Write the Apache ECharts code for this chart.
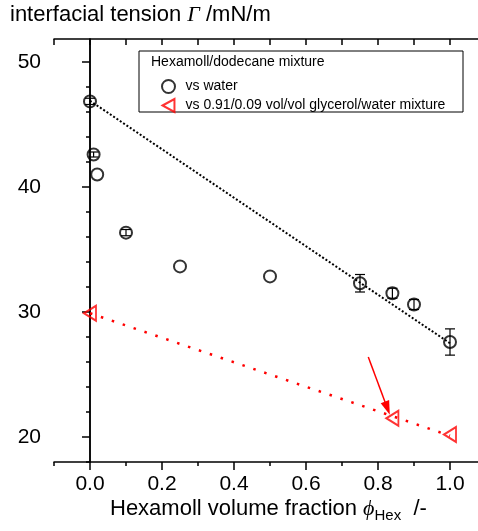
<!DOCTYPE html>
<html>
<head>
<meta charset="utf-8">
<script src="https://cdn.jsdelivr.net/npm/echarts@6/dist/echarts.min.js"></script>
<style>
  html, body { margin: 0; padding: 0; background: #fff; }
  #chart { width: 478px; height: 531px; }
</style>
</head>
<body>
<div id="chart"></div>
<script>
var waterX = [0, 0.01, 0.02, 0.1, 0.25, 0.5, 0.75, 0.84, 0.9, 1.0];
var waterY = [46.85, 42.6, 41.0, 36.35, 33.65, 32.85, 32.3, 31.5, 30.6, 27.6];
var waterErr = [0.25, 0.2, 0, 0.25, 0, 0, 0.7, 0.4, 0.4, 1.05];

var glyX = [0, 0.84, 1.0];
var glyY = [29.9, 21.5, 20.2];

var fitWaterX = [0, 1.0];
var fitWaterY = [46.9, 27.5];
var fitGlyX = [0, 1.0];
var fitGlyY = [29.9, 20.1];

var arrowFrom = [0.773, 26.4];
var arrowTo = [0.826, 22.3];

var xMajor = [0, 0.2, 0.4, 0.6, 0.8, 1.0];
var xMinor = [-0.1, 0.1, 0.3, 0.5, 0.7, 0.9];
var yMajor = [20, 30, 40, 50];
var yMinor = [18, 22, 24, 26, 28, 32, 34, 36, 38, 42, 44, 46, 48];

var FONT = '"Liberation Sans", Arial, sans-serif';
var SERIF = '"Liberation Serif", "Times New Roman", serif';
var triPath = 'path://M0,6 L11,0 L11,12 Z';

function zip(xs, ys) {
  return xs.map(function (x, i) { return [x, ys[i]]; });
}

var chart = echarts.init(document.getElementById('chart'));

var xBase = { type: 'value', min: -0.1, max: 1.1, splitLine: { show: false } };
var yBase = { type: 'value', min: 18, max: 51.84, splitLine: { show: false } };
var lineBlack = { lineStyle: { color: '#000', width: 1.5 } };

var option = {
  animation: false,
  backgroundColor: '#fff',
  grid: { left: 54, top: 39, width: 432, height: 423, outerBoundsMode: 'none', containLabel: false },
  xAxis: [
    Object.assign({}, xBase, {
      position: 'bottom',
      axisLine: lineBlack,
      axisTick: { show: true, inside: false, length: 8, customValues: xMajor, lineStyle: { color: '#000', width: 1.5 } },
      axisLabel: {
        customValues: xMajor, margin: 12, color: '#000', fontSize: 21, fontFamily: FONT,
        formatter: function (v) { return v.toFixed(1); }
      }
    }),
    Object.assign({}, xBase, {
      position: 'bottom',
      axisLine: { show: false },
      axisTick: { show: true, inside: false, length: 4, customValues: xMinor, lineStyle: { color: '#000', width: 1.5 } },
      axisLabel: { show: false }
    }),
    Object.assign({}, xBase, {
      position: 'top',
      interval: 0.1,
      axisLine: lineBlack,
      axisTick: { show: true, inside: true, length: 6, lineStyle: { color: '#000', width: 1.5 } },
      axisLabel: { show: false }
    })
  ],
  yAxis: [
    Object.assign({}, yBase, {
      position: 'left',
      axisLine: lineBlack,
      axisTick: { show: true, inside: false, length: 8, customValues: yMajor, lineStyle: { color: '#000', width: 1.5 } },
      axisLabel: { customValues: yMajor, margin: 13, color: '#000', fontSize: 21, fontFamily: FONT }
    }),
    Object.assign({}, yBase, {
      position: 'left',
      axisLine: { show: false },
      axisTick: { show: true, inside: false, length: 4, customValues: yMinor, lineStyle: { color: '#000', width: 1.5 } },
      axisLabel: { show: false }
    }),
    Object.assign({}, yBase, {
      position: 'right',
      axisLine: lineBlack,
      axisTick: { show: true, inside: true, length: 8, customValues: yMajor, lineStyle: { color: '#000', width: 1.5 } },
      axisLabel: { show: false }
    })
  ],
  legend: {
    orient: 'vertical',
    left: 156,
    top: 74,
    itemWidth: 24,
    itemHeight: 13,
    itemGap: 4,
    textStyle: { color: '#000', fontSize: 14, fontFamily: FONT, lineHeight: 14 },
    data: ['vs water', 'vs 0.91/0.09 vol/vol glycerol/water mixture']
  },
  graphic: [
    {
      type: 'text', left: 10, top: 4,
      style: {
        text: '{a|interfacial tension }{g|Γ}{a| /mN/m}',
        rich: {
          a: { fontSize: 22, fontFamily: FONT, fill: '#000' },
          g: { fontSize: 22, fontFamily: SERIF, fontStyle: 'italic', fill: '#000' }
        }
      }
    },
    {
      type: 'rect', z: 1,
      shape: { x: 139, y: 51, width: 324, height: 61 },
      style: { fill: '#fff', stroke: '#000', lineWidth: 1 }
    },
    {
      type: 'text', left: 151, top: 55, z: 2,
      style: { text: 'Hexamoll/dodecane mixture', fontSize: 14, fontFamily: FONT, fill: '#000' }
    },
    {
      type: 'text', left: 110, top: 498,
      style: {
        text: '{a|Hexamoll volume fraction }{p|ϕ}{s|Hex}{a|  /-}',
        rich: {
          a: { fontSize: 22, fontFamily: FONT, fill: '#000', lineHeight: 28 },
          p: { fontSize: 22, fontFamily: SERIF, fontStyle: 'italic', fill: '#000', lineHeight: 28 },
          s: { fontSize: 15, fontFamily: FONT, fill: '#000', lineHeight: 15, verticalAlign: 'bottom' }
        }
      }
    }
  ],
  series: [
    {
      name: 'fitWater', type: 'line', silent: true, symbol: 'none',
      data: zip(fitWaterX, fitWaterY),
      lineStyle: { color: '#000', width: 2, type: [2, 2] }
    },
    {
      name: 'fitGly', type: 'line', silent: true, symbol: 'none',
      data: zip(fitGlyX, fitGlyY),
      lineStyle: { color: '#ff0000', width: 2.5, type: [2.5, 9] },
      markLine: {
        silent: true,
        symbol: ['none', 'triangle'],
        symbolSize: [9, 14],
        label: { show: false },
        lineStyle: { color: '#ff0000', width: 1.5, type: 'solid' },
        itemStyle: { color: '#ff0000' },
        data: [[{ coord: arrowFrom }, { coord: arrowTo }]]
      }
    },
    {
      name: 'errWater', type: 'custom', silent: true,
      data: waterX.map(function (x, i) { return [x, waterY[i], waterErr[i]]; }),
      renderItem: function (params, api) {
        var err = api.value(2);
        if (!err) return null;
        var top = api.coord([api.value(0), api.value(1) + err]);
        var bot = api.coord([api.value(0), api.value(1) - err]);
        var hw = 5;
        var st = { stroke: '#000', lineWidth: 1.2 };
        return {
          type: 'group',
          children: [
            { type: 'line', shape: { x1: top[0], y1: top[1], x2: bot[0], y2: bot[1] }, style: st },
            { type: 'line', shape: { x1: top[0] - hw, y1: top[1], x2: top[0] + hw, y2: top[1] }, style: st },
            { type: 'line', shape: { x1: bot[0] - hw, y1: bot[1], x2: bot[0] + hw, y2: bot[1] }, style: st }
          ]
        };
      }
    },
    {
      name: 'vs water', type: 'scatter',
      data: zip(waterX, waterY),
      symbol: 'circle', symbolSize: 12,
      itemStyle: { color: 'rgba(255,255,255,0)', borderColor: '#000', borderWidth: 2 }
    },
    {
      name: 'vs 0.91/0.09 vol/vol glycerol/water mixture', type: 'scatter',
      data: zip(glyX, glyY),
      symbol: triPath, symbolSize: [12, 15],
      itemStyle: { color: 'rgba(255,255,255,0)', borderColor: '#ff0000', borderWidth: 2 }
    }
  ]
};

chart.setOption(option);
</script>
</body>
</html>
